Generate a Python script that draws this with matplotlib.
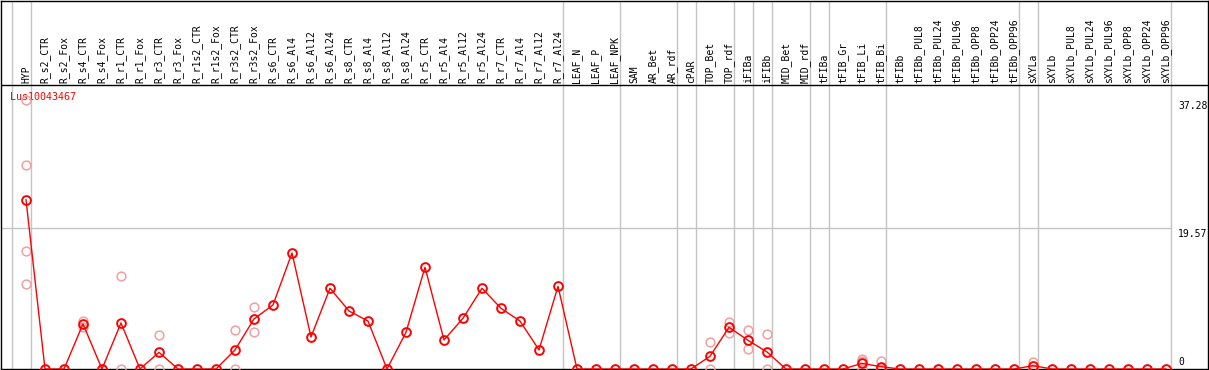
import matplotlib
matplotlib.use("Agg")
import matplotlib.pyplot as plt
import numpy as np

gene = "Lus10043467"

categories = [
    "HYP", "R_s2_CTR", "R_s2_Fox", "R_s4_CTR", "R_s4_Fox", "R_r1_CTR", "R_r1_Fox",
    "R_r3_CTR", "R_r3_Fox", "R_r1s2_CTR", "R_r1s2_Fox", "R_r3s2_CTR", "R_r3s2_Fox",
    "R_s6_CTR", "R_s6_Al4", "R_s6_Al12", "R_s6_Al24", "R_s8_CTR", "R_s8_Al4",
    "R_s8_Al12", "R_s8_Al24", "R_r5_CTR", "R_r5_Al4", "R_r5_Al12", "R_r5_Al24",
    "R_r7_CTR", "R_r7_Al4", "R_r7_Al12", "R_r7_Al24", "LEAF_N", "LEAF_P", "LEAF_NPK",
    "SAM", "AR_Bet", "AR_rdf", "cPAR", "TOP_Bet", "TOP_rdf", "iFIBa", "iFIBb",
    "MID_Bet", "MID_rdf", "tFIBa", "tFIB_Gr", "tFIB_Li", "tFIB_Bi", "tFIBb",
    "tFIBb_PUL8", "tFIBb_PUL24", "tFIBb_PUL96", "tFIBb_OPP8", "tFIBb_OPP24",
    "tFIBb_OPP96", "sXYLa", "sXYLb", "sXYLb_PUL8", "sXYLb_PUL24", "sXYLb_PUL96",
    "sXYLb_OPP8", "sXYLb_OPP24", "sXYLb_OPP96",
]

means = [
    23.46, 0, 0, 6.24, 0, 6.38, 0, 2.31, 0, 0, 0, 2.64, 6.94,
    8.87, 16.08, 4.44, 11.19, 8.04, 6.65, 0, 5.09, 14.1, 4.02, 7.03, 11.19,
    8.41, 6.65, 2.64, 11.46, 0, 0, 0,
    0, 0, 0, 0, 1.76, 5.78, 3.98, 2.36,
    0, 0, 0, 0, 0.78, 0.32, 0,
    0, 0, 0, 0, 0, 0,
    0.46, 0, 0, 0, 0, 0, 0, 0,
]

replicates = {
    "HYP": [37.28, 28.3, 16.3, 11.8],
    "R_s4_CTR": [6.7, 5.8],
    "R_r1_CTR": [12.86, 0],
    "R_r3_CTR": [4.67, 0],
    "R_r3s2_CTR": [5.4, 0],
    "R_r3s2_Fox": [8.55, 5.09],
    "TOP_Bet": [3.7, 0],
    "TOP_rdf": [6.56, 4.95],
    "iFIBa": [5.37, 2.73],
    "iFIBb": [4.85, 0],
    "tFIB_Li": [1.39, 1.15, 0],
    "tFIB_Bi": [1.1, 0, 0],
    "sXYLa": [0.93, 0],
}

# group separators: after these category indices (1-based), 0 = before first
separators_after = [0, 1, 29, 32, 35, 36, 38, 39, 40, 42, 43, 46, 53, 54, 61]
ref_lines = [19.57]
axis_labels = ["37.28", "19.57", "0"]
axis_values = [37.28, 19.57, 0]

# ---------------------------------------------------------------
W, H = 1209, 370
fig = plt.figure(figsize=(W / 100, H / 100), dpi=100)
ax = fig.add_axes([1 / W, 1 / H, 1207 / W, 368.5 / H])

PX = 19.0            # px per category
PY = 269.0 / 37.28   # px per unit
x0 = -(26 - 1) / PX + 1
x1 = 1 + (1208 - 26) / PX
ax.set_xlim(x0, x1)
ax.set_ylim(0, 368.5 / PY)


def yv(p):
    return (369 - p) / PY


def xv(p):
    return 1 + (p - 26) / PX


grey = "#c4c4c4"
for k in separators_after:
    ax.axvline(k + 4.5 / PX, color=grey, lw=1.0, zorder=1)
for r in ref_lines:
    ax.plot([x0, xv(1170.5)], [r, r], color=grey, lw=1.0, zorder=1)

# header separator line
ax.axhline(yv(85), color="black", lw=1.0, zorder=3)

xs = np.arange(1, len(categories) + 1)

# replicates
for i, c in enumerate(categories):
    if c in replicates:
        vals = replicates[c]
        ax.plot([xs[i]] * len(vals), vals, linestyle="none", marker="o",
                markersize=6.3, markerfacecolor="none", markeredgecolor="#f0a0a0",
                markeredgewidth=1.1, zorder=4)

# mean line
ax.plot(xs, means, color="#ff0000", lw=1.0, marker="o", markersize=6.3,
        markerfacecolor="none", markeredgecolor="#ff0000", markeredgewidth=1.4,
        zorder=5)

# category labels
for i, c in enumerate(categories):
    ax.text(xs[i], yv(83), c, rotation=90, ha="center", va="bottom",
            fontsize=7, family="DejaVu Sans Mono", color="black", zorder=6)

# gene name
ax.text(xv(10), yv(97), gene, ha="left", va="center", fontsize=7.2,
        family="DejaVu Sans Mono", color="#ff0000", zorder=3)

# right value labels
ax.text(xv(1178), axis_values[0] - 0.15, axis_labels[0], ha="left", va="top",
        fontsize=7, family="DejaVu Sans Mono", color="black")
ax.text(xv(1178), axis_values[1] - 0.15, axis_labels[1], ha="left", va="top",
        fontsize=7, family="DejaVu Sans Mono", color="black")
ax.text(xv(1178), axis_values[2] + 0.3, axis_labels[2], ha="left", va="bottom",
        fontsize=7, family="DejaVu Sans Mono", color="black")

ax.set_xticks([])
ax.set_yticks([])
for sp in ax.spines.values():
    sp.set_color("black")
    sp.set_linewidth(1.0)

fig.savefig("out.png", dpi=100)
